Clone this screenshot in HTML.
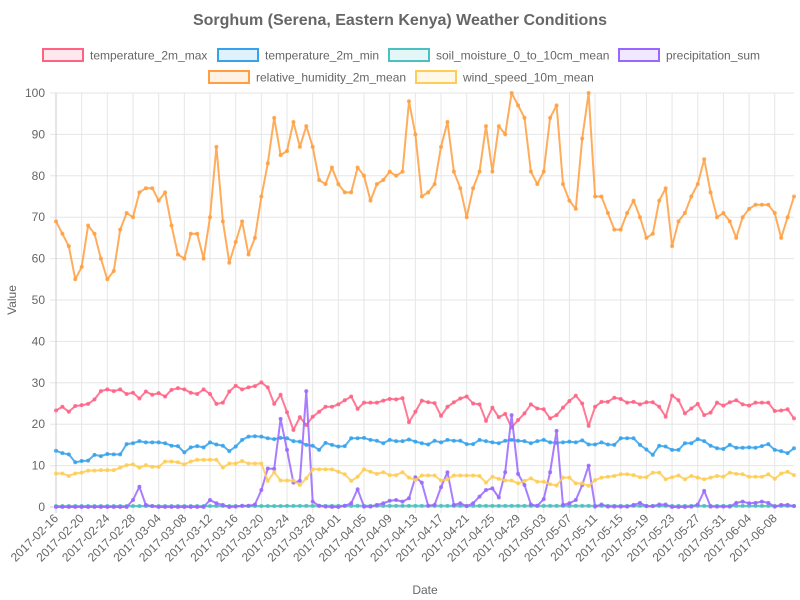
<!DOCTYPE html>
<html><head><meta charset="utf-8"><style>
html,body{margin:0;padding:0;background:#fff;}
svg{display:block;font-family:"Liberation Sans",Arial,sans-serif;}
</style></head><body>
<svg id="chart" width="800" height="600" viewBox="0 0 800 600"></svg>
<script>
const startDate = "2017-02-16";
const tempMax = [23.3,24.2,23.0,24.4,24.6,24.9,26.0,28.0,28.4,28.0,28.4,27.3,27.6,26.2,27.9,27.1,27.5,26.7,28.3,28.7,28.4,27.6,27.3,28.4,27.3,24.9,25.2,27.9,29.3,28.4,28.9,29.2,30.1,28.9,24.9,27.1,22.9,18.6,21.7,19.8,21.8,23.0,24.2,24.2,24.8,25.8,26.7,23.7,25.2,25.2,25.2,25.7,26.1,26.0,26.3,20.5,23.0,25.7,25.3,25.1,22.0,24.2,25.3,26.2,26.7,25.0,24.8,20.8,24.0,21.7,22.5,19.2,21.0,22.6,24.8,23.8,23.6,21.4,22.2,24.0,25.6,26.9,25.0,19.6,24.2,25.4,25.4,26.4,26.1,25.2,25.4,24.8,25.3,25.3,24.2,21.8,26.9,25.8,22.6,23.8,24.9,22.2,22.8,25.2,24.5,25.3,25.8,24.8,24.5,25.2,25.2,25.2,23.2,23.3,23.6,21.4];
const tempMin = [13.6,13.0,12.7,10.8,11.1,11.2,12.6,12.3,12.8,12.7,12.7,15.2,15.4,15.9,15.6,15.6,15.6,15.4,14.8,14.7,13.2,14.4,14.7,14.4,15.6,15.1,14.8,13.5,14.6,16.2,17.0,17.1,17.0,16.6,16.4,16.7,16.6,15.9,15.8,15.0,14.8,13.8,15.5,15.0,14.6,14.7,16.6,16.6,16.7,16.2,16.0,15.4,16.2,15.9,15.9,16.3,15.8,15.4,15.1,16.0,15.6,16.2,16.0,16.0,15.2,15.2,16.2,15.9,15.6,15.4,16.0,16.2,16.0,15.9,15.4,15.9,16.2,15.6,15.5,15.6,15.8,15.6,16.1,15.1,15.1,15.6,15.1,15.0,16.6,16.6,16.6,15.0,13.9,12.6,14.8,14.6,13.8,13.8,15.4,15.4,16.4,15.9,14.8,14.2,14.0,15.0,14.3,14.3,14.4,14.3,14.7,15.2,13.8,13.5,13.0,14.2];
const soilMoisture = [0.25,0.25,0.25,0.25,0.25,0.25,0.25,0.25,0.25,0.25,0.25,0.25,0.25,0.25,0.25,0.25,0.25,0.25,0.25,0.25,0.25,0.25,0.25,0.25,0.25,0.25,0.25,0.25,0.25,0.25,0.25,0.25,0.25,0.25,0.25,0.25,0.26,0.27,0.27,0.28,0.28,0.28,0.28,0.28,0.28,0.28,0.28,0.28,0.28,0.28,0.28,0.28,0.28,0.28,0.28,0.28,0.28,0.28,0.28,0.28,0.28,0.28,0.28,0.28,0.28,0.28,0.28,0.28,0.28,0.28,0.28,0.28,0.28,0.28,0.28,0.28,0.28,0.28,0.28,0.28,0.28,0.28,0.28,0.28,0.28,0.28,0.28,0.28,0.27,0.27,0.27,0.27,0.27,0.27,0.27,0.27,0.27,0.27,0.27,0.27,0.27,0.27,0.27,0.27,0.27,0.27,0.27,0.27,0.27,0.27,0.27,0.27,0.27,0.27,0.27,0.27];
const precipitation = [0,0,0,0,0,0,0,0,0,0,0,0,1.7,4.9,0.5,0.2,0,0,0,0,0,0,0,0,1.7,0.9,0.5,0,0.1,0.3,0.3,0.6,4.1,9.3,9.2,21.3,13.8,5.9,6.3,28.0,1.3,0.3,0.1,0,0,0.3,0.9,4.3,0.1,0.1,0.5,0.9,1.5,1.7,1.3,2.1,7.2,5.9,0.3,0.5,4.8,8.4,0.5,0.9,0.2,0.9,2.5,4.1,4.5,2.3,8.4,22.2,8.0,5.3,0.6,0.3,1.9,8.4,18.4,0.5,0.9,1.7,5.3,10.0,0.1,0.6,0.1,0.1,0.1,0.1,0.5,1.0,0.2,0.2,0.6,0.6,0,0,0,0.1,0.6,3.9,0.1,0.1,0.1,0.1,1.0,1.3,0.9,1.0,1.3,1.0,0.1,0.5,0.5,0.2];
const humidity = [69,66,63,55,58,68,66,60,55,57,67,71,70,76,77,77,74,76,68,61,60,66,66,60,70,87,69,59,64,69,61,65,75,83,94,85,86,93,87,92,87,79,78,82,78,76,76,82,80,74,78,79,81,80,81,98,90,75,76,78,87,93,81,77,70,77,81,92,81,92,90,100,97,94,81,78,81,94,97,78,74,72,89,100,75,75,71,67,67,71,74,70,65,66,74,77,63,69,71,75,78,84,76,70,71,69,65,70,72,73,73,73,71,65,70,75];
const windSpeed = [8.1,8.1,7.5,8.1,8.3,8.8,8.8,8.9,8.9,8.9,9.5,10.1,10.3,9.5,10.1,9.7,9.7,11.0,11.0,10.8,10.3,11.0,11.4,11.4,11.4,11.4,9.5,10.5,10.5,11.1,10.5,10.5,10.5,6.3,8.4,6.4,6.4,6.4,5.3,6.9,9.1,9.1,9.1,9.1,8.5,7.9,6.3,7.3,9.1,8.5,8.0,8.4,7.7,7.7,8.4,7.1,6.5,7.6,7.6,7.6,6.4,6.7,7.6,7.6,7.6,7.6,7.5,5.9,7.3,6.8,6.4,6.4,5.7,6.3,6.9,6.1,6.1,5.5,5.2,7.1,7.1,5.7,5.7,5.1,6.5,7.1,7.3,7.5,7.9,7.9,7.7,7.2,7.2,8.3,8.3,6.7,7.2,7.6,6.7,7.5,7.1,6.7,7.1,7.5,7.3,8.3,8.0,7.9,7.3,7.3,7.3,7.9,6.8,8.1,8.5,7.7];
const yTicks = [0,10,20,30,40,50,60,70,80,90,100];

const NS = "http://www.w3.org/2000/svg";
const svg = document.getElementById('chart');
const L = 56, R = 794, T = 93, B = 507;
const N = humidity.length;
function xPos(i){ return L + (R - L) * i / (N - 1); }
function yPos(v){ return B - (B - T) * v / 100; }
function mk(tag, attrs, parent){
  const e = document.createElementNS(NS, tag);
  for (const k in attrs) e.setAttribute(k, attrs[k]);
  (parent || svg).appendChild(e);
  return e;
}
function dateLabel(i){
  const d = new Date(startDate + "T00:00:00Z");
  d.setUTCDate(d.getUTCDate() + i);
  return d.toISOString().slice(0, 10);
}

// title
const title = mk('text', {x:400, y:25, 'text-anchor':'middle', 'font-size':16, 'font-weight':'bold', fill:'#666'});
title.textContent = 'Sorghum (Serena, Eastern Kenya) Weather Conditions';



// legend
const series = [
  {name:'temperature_2m_max', data:tempMax, color:'255,99,132', lx:43, ly:49},
  {name:'temperature_2m_min', data:tempMin, color:'54,162,235', lx:218, ly:49},
  {name:'soil_moisture_0_to_10cm_mean', data:soilMoisture, color:'75,192,192', lx:389, ly:49},
  {name:'precipitation_sum', data:precipitation, color:'153,102,255', lx:619, ly:49},
  {name:'relative_humidity_2m_mean', data:humidity, color:'255,159,64', lx:209, ly:71},
  {name:'wind_speed_10m_mean', data:windSpeed, color:'255,205,86', lx:416, ly:71}
];
series.forEach(s => {
  const g = mk('g', {});
  
  
  mk('rect', {x:s.lx, y:s.ly, width:40, height:12, fill:'rgba(' + s.color + ',0.15)', stroke:'rgb(' + s.color + ')', 'stroke-width':2}, g);
  const t = mk('text', {x:s.lx + 47, y:s.ly + 10.5, 'font-size':12, fill:'#666'}, g);
  t.textContent = s.name;
});

// grid + y ticks
const grid = mk('g', {});


yTicks.forEach(v => {
  mk('line', {x1:L - 6, x2:R, y1:yPos(v), y2:yPos(v), stroke:v === 0 ? '#ccc' : '#e6e6e6', 'stroke-width':1}, grid);
  const t = mk('text', {x:L - 11, y:yPos(v) + 4, 'text-anchor':'end', 'font-size':12, fill:'#666'});
  t.textContent = v;
  
  
});
for (let i = 0; i < N; i += 4) {
  mk('line', {x1:xPos(i), x2:xPos(i), y1:T, y2:B + 6, stroke:i === 0 ? '#ccc' : '#e6e6e6', 'stroke-width':1}, grid);
  const x = xPos(i), y = B + 12;
  const t = mk('text', {x:x + 3, y:y, 'text-anchor':'end', 'font-size':12, fill:'#666', transform:'rotate(-45 ' + (x + 3) + ' ' + y + ')'});
  t.textContent = dateLabel(i);
  
  
}

// axis titles
const yt = mk('text', {x:16, y:300, 'text-anchor':'middle', 'font-size':12, fill:'#666', transform:'rotate(-90 16 300)'});
yt.textContent = 'Value';


const xt = mk('text', {x:425, y:594, 'text-anchor':'middle', 'font-size':12, fill:'#666'});
xt.textContent = 'Date';



// series
series.forEach(s => {
  const g = mk('g', {});
  
  
  const pts = s.data.map((v, i) => xPos(i).toFixed(1) + ',' + yPos(v).toFixed(1)).join(' ');
  mk('polyline', {points:pts, fill:'none', stroke:'rgba(' + s.color + ',0.85)', 'stroke-width':2, 'stroke-linejoin':'round'}, g);
  s.data.forEach((v, i) => {
    const c = mk('circle', {cx:xPos(i), cy:yPos(v), r:2, fill:'rgba(' + s.color + ',0.85)'}, g);
    
    
  });
});
</script>
</body></html>
